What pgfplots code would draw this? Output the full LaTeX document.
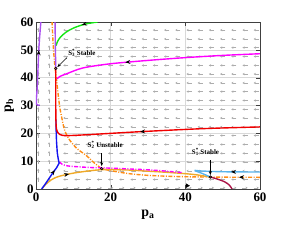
\documentclass[border=0pt]{standalone}
\usepackage{pgfplots}
\pgfplotsset{compat=1.18}
\usepackage{fontspec}
\setmainfont{Liberation Serif}
\usetikzlibrary{arrows.meta,decorations.markings}
\definecolor{cpurple}{RGB}{170,80,240}
\definecolor{cgreen}{RGB}{20,230,20}
\definecolor{cmag}{RGB}{255,0,255}
\definecolor{cred}{RGB}{240,0,0}
\definecolor{corange}{RGB}{255,140,20}
\definecolor{cgold}{RGB}{240,170,40}
\definecolor{cblue}{RGB}{20,20,240}
\definecolor{csky}{RGB}{90,180,235}
\definecolor{cmaroon}{RGB}{170,20,70}
\tikzset{arr/.style={postaction={decorate}, decoration={markings, mark=at position #1 with {\arrow[black]{Stealth[length=5pt,width=4pt]}}}}}
\begin{document}
\begin{tikzpicture}
\path[use as bounding box] (-36bp,-62bp) rectangle (251bp,189bp);
\begin{axis}[at={(0,0)}, anchor=south west, scale only axis, width=224bp, height=167bp,
 xmin=0, xmax=60, ymin=0, ymax=60, xtick={0,20,40,60}, ytick={0,10,...,60},
 xticklabels={0,20,40,60}, yticklabels={0,10,20,30,40,50,60},
 grid=major, grid style={black!15, line width=0.5pt},
 axis line style={black!75}, tick style={black!75},
 tick label style={font=\bfseries\fontsize{13}{13}\selectfont},
 yticklabel style={xshift=1pt}]
% vector field (left)
\addplot[quiver={u=-1.4,v=0}, -{Stealth[length=2.2pt,width=2.4pt]}, black!32, line width=0.4pt] coordinates {
(8.7,3.4) (11.7,3.4) (14.7,3.4) (17.7,3.4) (20.7,3.4) (23.7,3.4) (26.7,3.4) (29.7,3.4) (32.7,3.4) (35.7,3.4) (38.7,3.4) (41.7,3.4) (44.7,3.4) (47.7,3.4) (50.7,3.4) (53.7,3.4) (56.7,3.4) (59.7,3.4)
(8.7,6.5) (11.7,6.5) (14.7,6.5) (17.7,6.5) (20.7,6.5) (23.7,6.5) (26.7,6.5) (29.7,6.5) (32.7,6.5) (35.7,6.5) (38.7,6.5) (41.7,6.5) (44.7,6.5) (47.7,6.5) (50.7,6.5) (53.7,6.5) (56.7,6.5) (59.7,6.5)
(8.7,9.7) (11.7,9.7) (14.7,9.7) (17.7,9.7) (20.7,9.7) (23.7,9.7) (26.7,9.7) (29.7,9.7) (32.7,9.7) (35.7,9.7) (38.7,9.7) (41.7,9.7) (44.7,9.7) (47.7,9.7) (50.7,9.7) (53.7,9.7) (56.7,9.7) (59.7,9.7)
(8.7,12.8) (11.7,12.8) (14.7,12.8) (17.7,12.8) (20.7,12.8) (23.7,12.8) (26.7,12.8) (29.7,12.8) (32.7,12.8) (35.7,12.8) (38.7,12.8) (41.7,12.8) (44.7,12.8) (47.7,12.8) (50.7,12.8) (53.7,12.8) (56.7,12.8) (59.7,12.8)
(8.7,16) (11.7,16) (14.7,16) (17.7,16) (20.7,16) (23.7,16) (26.7,16) (29.7,16) (32.7,16) (35.7,16) (38.7,16) (41.7,16) (44.7,16) (47.7,16) (50.7,16) (53.7,16) (56.7,16) (59.7,16)
(8.7,19.2) (11.7,19.2) (14.7,19.2) (17.7,19.2) (20.7,19.2) (23.7,19.2) (26.7,19.2) (29.7,19.2) (32.7,19.2) (35.7,19.2) (38.7,19.2) (41.7,19.2) (44.7,19.2) (47.7,19.2) (50.7,19.2) (53.7,19.2) (56.7,19.2) (59.7,19.2)
(8.7,22.3) (11.7,22.3) (14.7,22.3) (17.7,22.3) (20.7,22.3) (23.7,22.3) (26.7,22.3) (29.7,22.3) (32.7,22.3) (35.7,22.3) (38.7,22.3) (41.7,22.3) (44.7,22.3) (47.7,22.3) (50.7,22.3) (53.7,22.3) (56.7,22.3) (59.7,22.3)
(8.7,25.5) (11.7,25.5) (14.7,25.5) (17.7,25.5) (20.7,25.5) (23.7,25.5) (26.7,25.5) (29.7,25.5) (32.7,25.5) (35.7,25.5) (38.7,25.5) (41.7,25.5) (44.7,25.5) (47.7,25.5) (50.7,25.5) (53.7,25.5) (56.7,25.5) (59.7,25.5)
(8.7,28.6) (11.7,28.6) (14.7,28.6) (17.7,28.6) (20.7,28.6) (23.7,28.6) (26.7,28.6) (29.7,28.6) (32.7,28.6) (35.7,28.6) (38.7,28.6) (41.7,28.6) (44.7,28.6) (47.7,28.6) (50.7,28.6) (53.7,28.6) (56.7,28.6) (59.7,28.6)
(8.7,31.8) (11.7,31.8) (14.7,31.8) (17.7,31.8) (20.7,31.8) (23.7,31.8) (26.7,31.8) (29.7,31.8) (32.7,31.8) (35.7,31.8) (38.7,31.8) (41.7,31.8) (44.7,31.8) (47.7,31.8) (50.7,31.8) (53.7,31.8) (56.7,31.8) (59.7,31.8)
(8.7,35) (11.7,35) (14.7,35) (17.7,35) (20.7,35) (23.7,35) (26.7,35) (29.7,35) (32.7,35) (35.7,35) (38.7,35) (41.7,35) (44.7,35) (47.7,35) (50.7,35) (53.7,35) (56.7,35) (59.7,35)
(8.7,38.1) (11.7,38.1) (14.7,38.1) (17.7,38.1) (20.7,38.1) (23.7,38.1) (26.7,38.1) (29.7,38.1) (32.7,38.1) (35.7,38.1) (38.7,38.1) (41.7,38.1) (44.7,38.1) (47.7,38.1) (50.7,38.1) (53.7,38.1) (56.7,38.1) (59.7,38.1)
(8.7,41.3) (11.7,41.3) (14.7,41.3) (17.7,41.3) (20.7,41.3) (23.7,41.3) (26.7,41.3) (29.7,41.3) (32.7,41.3) (35.7,41.3) (38.7,41.3) (41.7,41.3) (44.7,41.3) (47.7,41.3) (50.7,41.3) (53.7,41.3) (56.7,41.3) (59.7,41.3)
(8.7,44.4) (11.7,44.4) (14.7,44.4) (17.7,44.4) (20.7,44.4) (23.7,44.4) (26.7,44.4) (29.7,44.4) (32.7,44.4) (35.7,44.4) (38.7,44.4) (41.7,44.4) (44.7,44.4) (47.7,44.4) (50.7,44.4) (53.7,44.4) (56.7,44.4) (59.7,44.4)
(8.7,47.6) (11.7,47.6) (14.7,47.6) (17.7,47.6) (20.7,47.6) (23.7,47.6) (26.7,47.6) (29.7,47.6) (32.7,47.6) (35.7,47.6) (38.7,47.6) (41.7,47.6) (44.7,47.6) (47.7,47.6) (50.7,47.6) (53.7,47.6) (56.7,47.6) (59.7,47.6)
(8.7,50.8) (11.7,50.8) (14.7,50.8) (17.7,50.8) (20.7,50.8) (23.7,50.8) (26.7,50.8) (29.7,50.8) (32.7,50.8) (35.7,50.8) (38.7,50.8) (41.7,50.8) (44.7,50.8) (47.7,50.8) (50.7,50.8) (53.7,50.8) (56.7,50.8) (59.7,50.8)
(8.7,53.9) (11.7,53.9) (14.7,53.9) (17.7,53.9) (20.7,53.9) (23.7,53.9) (26.7,53.9) (29.7,53.9) (32.7,53.9) (35.7,53.9) (38.7,53.9) (41.7,53.9) (44.7,53.9) (47.7,53.9) (50.7,53.9) (53.7,53.9) (56.7,53.9) (59.7,53.9)
(8.7,57.1) (11.7,57.1) (14.7,57.1) (17.7,57.1) (20.7,57.1) (23.7,57.1) (26.7,57.1) (29.7,57.1) (32.7,57.1) (35.7,57.1) (38.7,57.1) (41.7,57.1) (44.7,57.1) (47.7,57.1) (50.7,57.1) (53.7,57.1) (56.7,57.1) (59.7,57.1)
};
% vector field (up, near p_a = 0)
\addplot[quiver={u=0,v=1.6}, -{Stealth[length=2.2pt,width=2.4pt]}, black!32, line width=0.4pt] coordinates {
(0.6,2.6) (0.6,5.7) (0.6,8.9) (0.6,12) (0.6,15.2) (0.6,18.4) (0.6,21.5) (0.6,24.7) (0.6,27.8) (0.6,31) (0.6,34.2) (0.6,37.3) (0.6,40.5) (0.6,43.6) (0.6,46.8) (0.6,50) (0.6,53.1) (0.6,56.3)
(3.5,2.6) (3.5,5.7) (3.5,8.9) (3.5,12) (3.5,15.2) (3.5,18.4) (3.5,21.5) (3.5,24.7) (3.5,27.8) (3.5,31) (3.5,34.2) (3.5,37.3) (3.5,40.5) (3.5,43.6) (3.5,46.8) (3.5,50) (3.5,53.1) (3.5,56.3)
};
% vector field (right, bottom row)
\addplot[quiver={u=1.4,v=0}, -{Stealth[length=2.2pt,width=2.4pt]}, black!32, line width=0.4pt] coordinates {
(7.3,0.4) (10.3,0.4) (13.3,0.4) (16.3,0.4) (19.3,0.4) (22.3,0.4) (25.3,0.4) (28.3,0.4) (31.3,0.4) (34.3,0.4) (37.3,0.4) (40.3,0.4) (43.3,0.4) (46.3,0.4) (49.3,0.4) (52.3,0.4) (55.3,0.4) (58.3,0.4)
};
% orange dash-dot
\addplot[corange, line width=1.4pt, dash pattern=on 4pt off 1.5pt on 1pt off 1.5pt, smooth, arr=21bp] coordinates {
(60,4.2) (50,4.25) (46.7,4.3) (40,4.4) (35,4.6) (30,4.9) (25,5.5) (20,6.6) (17.6,7.4) (15.5,9.5) (13.5,12) (11,14.5) (9,17.6) (7.7,21) (7,25) (6.3,30) (5.6,38) (5,45) (4.6,52) (4.3,60)};
% orange solid
\addplot[cgold, line width=1.4pt, smooth, arr=32bp] coordinates {
(1.6,0) (2.5,1.5) (4,3.2) (5.6,4.3) (7.5,5) (10,5.7) (13,6.3) (17,6.9) (20,7.0) (25,6.8) (30,6.4) (35,6.0) (40,5.5) (43,5.1) (46.7,4.3)};
% magenta dash-dot
\addplot[cmag, line width=1.4pt, dash pattern=on 4pt off 1.5pt on 1pt off 1.5pt, smooth] coordinates {
(6.3,9.8) (7,8.9) (8.5,8.3) (11,8) (15,7.7) (20,7.5) (25,7.2) (30,6.9) (35,6.4) (39,5.9)};
% light blue
\addplot[csky, line width=1.4pt, arr=29bp] coordinates {(60,6.1) (52,6.15) (47,6.3) (44,6.5) (42.5,6.7)};
\addplot[csky, line width=1.4pt] coordinates {(42.5,6.6) (44.5,5.6) (46.7,4.3)};
% maroon
\addplot[cmaroon, line width=1.4pt, smooth] coordinates {(46.7,4.3) (48.5,3.6) (50.5,2.6) (51.8,1.4) (52.5,0)};
% blue
\addplot[cblue, line width=1.4pt, arr=23bp] coordinates {
(1.5,0) (2.5,1.8) (3.5,3.8) (4.5,5.8) (5.5,7.6) (6.2,9.3) (6.0,10.5) (5.7,13) (5.5,17) (5.4,21) (5.35,25)};
% red
\addplot[cred, line width=1.4pt, smooth, arr=120bp] coordinates {
(60,22.3) (45,21.7) (28,20.6) (15,19.6) (9,19.2) (7,19.3) (6,20) (5.5,21.5) (5.35,24) (5.3,30) (5.3,43.3)};
% magenta
\addplot[cmag, line width=1.4pt, smooth, arr=135bp] coordinates {
(60,48.6) (50,48) (40,47.2) (30,46.2) (20,45) (12.6,43.5) (8.2,41.4) (6.5,40.5) (5.6,39.6)};
% green
\addplot[cgreen, line width=1.4pt, smooth, arr=16bp] coordinates {
(16.5,60) (13,59.2) (10,57.8) (8,56.3) (6.5,54.5) (5.7,52.8) (5.4,51.5)};
% purple
\addplot[cpurple, line width=1.4pt, smooth, arr=58bp] coordinates {
(1,30.2) (0.1,30.5) (0.3,36) (0.5,42) (0.75,50) (1,55) (1.3,60)};
\addplot[cpurple, line width=1.4pt] coordinates {(5.1,60) (5.2,50) (5.3,43.3)};
% equilibria
\addplot[only marks, mark=o, mark size=1.3pt, black, line width=0.6pt] coordinates {(46.7,4.3) (17.6,7.3) (5.3,43.3)};
\addplot[only marks, mark=triangle*, mark size=2.2pt, mark options={rotate=-90, black}] coordinates {(40.5,1.2)};
% annotations
\draw[-{Stealth[length=4pt,width=3pt]}, line width=0.6pt] (axis cs:8.3,47.2) -- (axis cs:5.7,43.8);
\draw[-{Stealth[length=4pt,width=3pt]}, line width=0.6pt] (axis cs:17.6,12.8) -- (axis cs:17.6,8.2);
\draw[-{Stealth[length=4pt,width=3pt]}, line width=0.6pt] (axis cs:46.7,10.3) -- (axis cs:46.7,5.0);
\node[anchor=west, font=\bfseries\fontsize{7}{7}\selectfont, inner sep=0pt] at (axis cs:8.6,49) {S\rlap{\textsuperscript{*}}\textsubscript{3} Stable};
\node[anchor=west, font=\bfseries\fontsize{7}{7}\selectfont, inner sep=0pt] at (axis cs:13.8,15.8) {S\rlap{\textsuperscript{*}}\textsubscript{2} Unstable};
\node[anchor=west, font=\bfseries\fontsize{7}{7}\selectfont, inner sep=0pt] at (axis cs:41.7,13.4) {S\rlap{\textsuperscript{*}}\textsubscript{1} Stable};
\end{axis}
\node[rotate=90, anchor=base, font=\bfseries\fontsize{14}{14}\selectfont] at (-25bp,83.5bp) {p\textsubscript{b}};
\node[anchor=base, font=\bfseries\fontsize{14}{14}\selectfont] at (112bp,-27bp) {p\textsubscript{a}};
\end{tikzpicture}
\end{document}
